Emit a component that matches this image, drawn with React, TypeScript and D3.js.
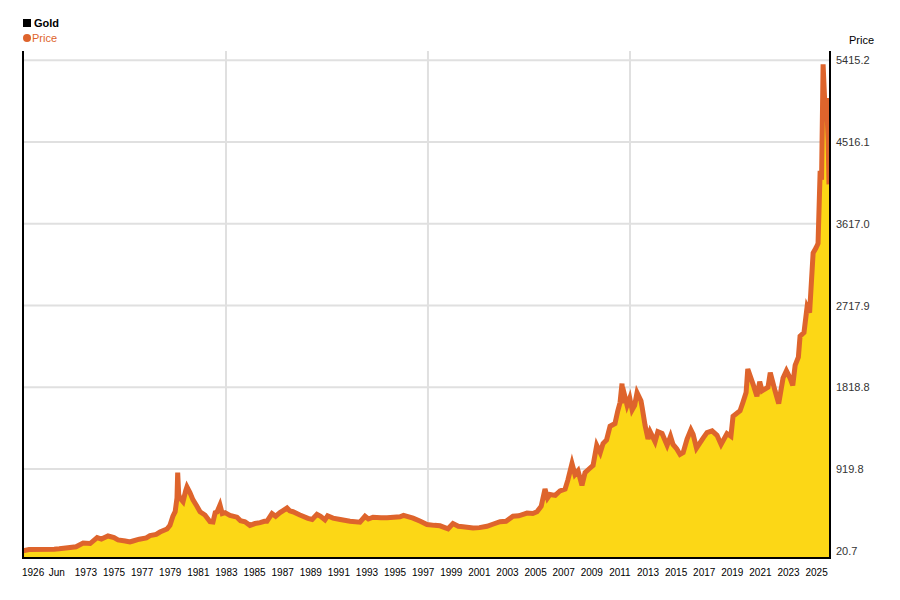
import React from 'react';
import * as d3 from 'd3';

// gold price (decimal year -> USD)
const years = [
  1926, 1934.1, 1968, 1971, 1971.6, 1972.22, 1972.8, 1973.3, 1973.8, 1974.3, 1974.6, 1975.07,
  1975.5, 1975.78, 1976.3, 1976.63, 1976.85, 1977.3, 1977.8, 1978.06, 1978.5, 1978.77, 1979.27,
  1979.48, 1979.69, 1979.85, 1979.98, 1980.03, 1980.1, 1980.19, 1980.41, 1980.6, 1980.69, 1980.9,
  1981.12, 1981.4, 1981.62, 1981.97, 1982.33, 1982.54, 1982.7, 1982.83, 1983.04, 1983.2, 1983.4,
  1983.75, 1984.25, 1984.5, 1984.82, 1985.17, 1985.53, 1985.89, 1986.2, 1986.38, 1986.74, 1987.0,
  1987.31, 1987.81, 1988.0, 1988.23, 1988.73, 1989.3, 1989.6, 1989.94, 1990.2, 1990.51, 1990.7,
  1991.08, 1991.6, 1992.29, 1993.0, 1993.36, 1993.6, 1993.93, 1994.5, 1994.93, 1995.4, 1995.85,
  1996.1, 1996.78, 1997.3, 1997.77, 1998.3, 1998.7, 1999.27, 1999.62, 2000.0, 2000.33, 2001.05,
  2001.5, 2002.04, 2002.5, 2002.97, 2003.4, 2003.89, 2004.3, 2004.89, 2005.3, 2005.6, 2005.9,
  2006.17, 2006.35, 2006.53, 2006.9, 2007.24, 2007.6, 2007.8, 2008.09, 2008.3, 2008.52, 2008.8,
  2009.02, 2009.3, 2009.59, 2009.85, 2010.1, 2010.3, 2010.55, 2010.8, 2011.15, 2011.35, 2011.51,
  2011.65, 2011.72, 2011.85, 2012.01, 2012.2, 2012.37, 2012.55, 2012.72, 2013.0, 2013.08, 2013.29,
  2013.5, 2013.65, 2014.0, 2014.2, 2014.5, 2014.86, 2015.1, 2015.28, 2015.55, 2015.78, 2016.0,
  2016.28, 2016.55, 2016.71, 2016.95, 2017.42, 2017.7, 2018.06, 2018.41, 2018.7, 2019.12, 2019.4,
  2019.55, 2020.05, 2020.25, 2020.48, 2020.6, 2020.98, 2021.25, 2021.45, 2021.62, 2022.04, 2022.2,
  2022.54, 2022.8, 2023.11, 2023.35, 2023.61, 2023.8, 2023.97, 2024.2, 2024.32, 2024.6, 2024.82,
  2025.0, 2025.25, 2025.45, 2025.6, 2025.75, 2025.85, 2025.96, 2026.1, 2026.2, 2026.32, 2026.38,
];
const prices = [
  20.7, 35, 38, 40, 42, 54, 65, 106, 100, 166, 150, 183,
  165, 140, 128, 117, 128, 148, 162, 188, 200, 226, 260,
  300, 400, 450, 600, 880, 640, 600, 560, 680, 722, 660,
  580, 510, 450, 414, 340, 337, 440, 447, 524, 430, 440,
  410, 390, 350, 340, 300, 320, 330, 345, 345, 430, 400,
  440, 490, 460, 450, 414, 377, 365, 421, 400, 360, 405,
  380, 365, 345, 335, 400, 370, 390, 385, 385, 390, 395,
  410, 380, 345, 310, 300, 295, 262, 320, 290, 285, 270,
  275, 290, 315, 340, 345, 400, 405, 435, 430, 450, 510,
  700, 600, 640, 630, 680, 700, 800, 980, 860, 900, 740,
  880, 920, 960, 1180, 1100, 1200, 1240, 1390, 1420, 1560, 1650,
  1860, 1646, 1720, 1620, 1700, 1570, 1620, 1760, 1670, 1600, 1400,
  1250, 1330, 1220, 1330, 1310, 1180, 1280, 1190, 1140, 1080, 1100,
  1250, 1350, 1300, 1150, 1260, 1320, 1340, 1290, 1190, 1310, 1280,
  1500, 1560, 1650, 1760, 2020, 1850, 1720, 1880, 1780, 1820, 1980,
  1780, 1640, 1920, 2000, 1920, 1840, 2060, 2150, 2380, 2420, 2700,
  2640, 3296, 3350, 3400, 4200, 4100, 5370, 4870, 5000, 4540, 4050,
];

const priceTicks = [20.7, 919.8, 1818.8, 2717.9, 3617.0, 4516.1, 5415.2];
const yearLabels = [
  '1973', '1975', '1977', '1979', '1981', '1983', '1985', '1987', '1989', '1991', '1993', '1995',
  '1997', '1999', '2001', '2003', '2005', '2007', '2009', '2011', '2013', '2015', '2017', '2019',
  '2021', '2023', '2025',
];
const gridYears = [1983.47, 1997.84, 2012.22];

const left = 23;
const right = 830;
const top = 51;
const bottom = 558;
const font = 'Arial, "Liberation Sans", sans-serif';
const orange = '#DE642C';
const yellow = '#FCD716';

export default function App() {
  const x = d3.scaleLinear().domain([1926, 1971.42, 2026.38]).range([left, 56.7, right - 1]);
  const y = d3.scaleLinear().domain([-59, 5528]).range([bottom, 50]);

  const pts = years.map((yr, i) => [yr, prices[i]] as [number, number]);
  const line = d3.line<[number, number]>().x(d => x(d[0])).y(d => y(d[1]));
  const area = d3.area<[number, number]>().x(d => x(d[0])).y0(bottom).y1(d => y(d[1]));

  return (
    <svg width={900} height={600} style={{ position: 'absolute', left: 0, top: 0, fontFamily: font }}>
      <rect width={900} height={600} fill="#fff" />
      <defs>
        <clipPath id="plot">
          <rect x={left} y={top} width={right - left} height={bottom - top} />
        </clipPath>
      </defs>

      {/* grid */}
      {priceTicks.slice(1).map(t => (
        <line key={t} x1={left} x2={right} y1={y(t)} y2={y(t)} stroke="#e0e0e0" strokeWidth={2} />
      ))}
      {gridYears.map(g => (
        <line key={g} x1={x(g)} x2={x(g)} y1={top} y2={bottom} stroke="#e0e0e0" strokeWidth={2} />
      ))}

      <g clipPath="url(#plot)">
        <path d={area(pts) ?? ''} fill={yellow} />
        <path d={line(pts) ?? ''} fill="none" stroke={orange} strokeWidth={5} strokeLinejoin="miter" />
      </g>

      {/* axes */}
      <line x1={left} x2={left} y1={top} y2={bottom + 1} stroke="#000" strokeWidth={2} />
      <line x1={left} x2={right} y1={bottom} y2={bottom} stroke="#000" strokeWidth={2} />
      <line x1={right} x2={right} y1={top} y2={bottom + 1} stroke="#000" strokeWidth={2} />

      {/* right axis labels */}
      <text x={849} y={44} fontSize={11} fill="#000">Price</text>
      {priceTicks.map(t => (
        <text key={t} x={836} y={y(t) + 4} fontSize={11} fill="#333">{t.toFixed(1)}</text>
      ))}

      {/* bottom labels */}
      <text x={22} y={576} fontSize={10} fill="#000">1926</text>
      <text x={x(1971.42)} y={576} fontSize={10} fill="#000" textAnchor="middle">Jun</text>
      {yearLabels.map(l => (
        <text key={l} x={x(+l + 0.5)} y={576} fontSize={10} fill="#000" textAnchor="middle">{l}</text>
      ))}

      {/* legend */}
      <rect x={23} y={19} width={8} height={8} fill="#000" />
      <text x={34} y={27} fontSize={11} fontWeight="bold" fill="#000">Gold</text>
      <circle cx={27} cy={38} r={4} fill={orange} />
      <text x={32} y={42} fontSize={11} fill={orange}>Price</text>
    </svg>
  );
}
